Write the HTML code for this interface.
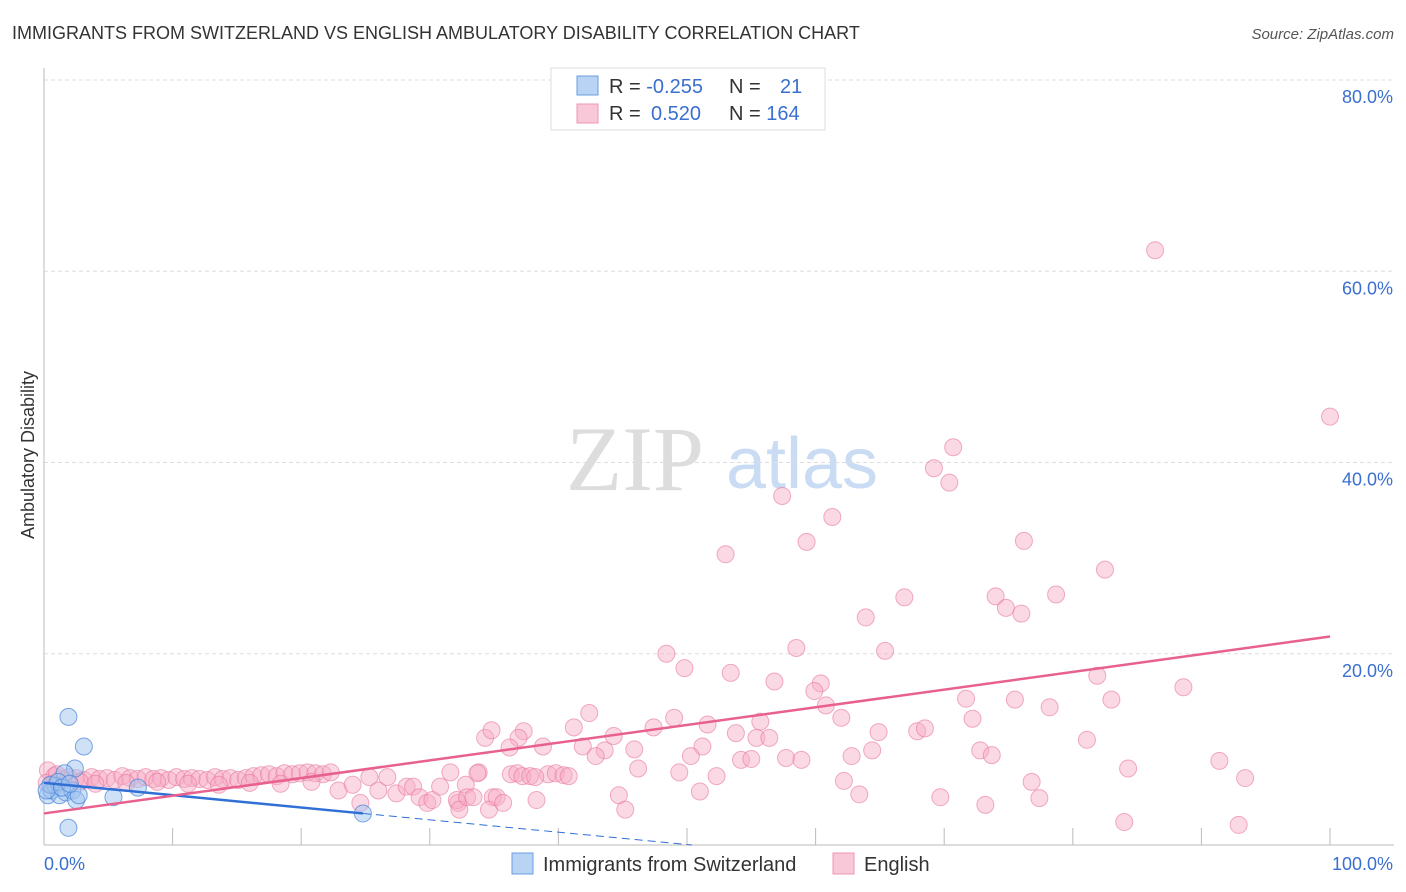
<!DOCTYPE html>
<html><head><meta charset="utf-8"><style>
body{margin:0;background:#fff;font-family:"Liberation Sans",sans-serif;}
svg{display:block}
</style></head><body>
<svg id="chart" width="1406" height="892" xmlns="http://www.w3.org/2000/svg">
<text x="12" y="39" font-size="18" fill="#333">IMMIGRANTS FROM SWITZERLAND VS ENGLISH AMBULATORY DISABILITY CORRELATION CHART</text>
<text x="1394" y="39" font-size="15" font-style="italic" fill="#555" text-anchor="end">Source: ZipAtlas.com</text>
<g>
<text x="635" y="490" font-size="92" font-family="Liberation Serif,serif" fill="#ddd" text-anchor="middle">ZIP</text>
<text x="802" y="488" font-size="72" fill="#c9dcf3" text-anchor="middle">atlas</text>
</g>
<g id="grid"></g>
<g id="axes"></g>
<g id="marks"></g>
<text transform="translate(34,455) rotate(-90)" font-size="18" fill="#333" text-anchor="middle">Ambulatory Disability</text>
<g>
<rect x="551" y="68" width="274" height="62" fill="#fff" stroke="#ddd"/>
<rect x="577" y="76" width="21" height="19" fill="#b9d3f5" stroke="#6a9de0"/>
<rect x="577" y="104" width="21" height="19" fill="#f9c8d8" stroke="#ee94b2"/>
<text x="609" y="93" font-size="20" fill="#333">R = <tspan fill="#3a6fd0">-0.255</tspan></text>
<text x="729" y="93" font-size="20" fill="#333">N = <tspan x="780" fill="#3a6fd0">21</tspan></text>
<text x="609" y="120" font-size="20" fill="#333">R = <tspan x="651" fill="#3a6fd0">0.520</tspan></text>
<text x="729" y="120" font-size="20" fill="#333">N = <tspan fill="#3a6fd0">164</tspan></text>
</g>
<g>
<rect x="512" y="853" width="21" height="21" fill="#b9d3f5" stroke="#6a9de0"/>
<text x="543" y="871" font-size="20" fill="#333">Immigrants from Switzerland</text>
<rect x="833" y="853" width="21" height="21" fill="#f9c8d8" stroke="#ee94b2"/>
<text x="864" y="871" font-size="20" fill="#333">English</text>
</g>
</svg>
<script>
const xTicks=[0,10,20,30,40,50,60,70,80,90,100];
const yTicks=[20,40,60,80];
const yTickLabels=["20.0%","40.0%","60.0%","80.0%"];
const xEndLabels=["0.0%","100.0%"];
const blueX=[1.9,3.1,2.4,1.9,1.6,5.4,7.3,24.8,0.3,0.6,0.9,1.2,1.7,2.2,2.5,2.7,0.5,1.1,0.2,1.4,2.0];
const blueY=[13.4,10.3,8.0,1.8,7.5,5.0,6.0,3.3,5.2,5.7,6.2,5.2,5.5,5.7,4.7,5.2,6.3,6.6,5.7,6.0,6.4];
const pinkX=[86.4,100,70.7,69.2,70.4,57.4,61.3,59.3,53.0,76.2,82.5,66.9,74.0,78.7,74.8,76.0,63.9,58.5,48.4,65.4,49.8,53.4,56.8,60.4,59.9,81.9,88.6,71.7,75.5,83.0,60.8,78.2,42.4,49.0,62.0,72.2,37.3,41.2,47.4,55.7,51.6,36.9,44.3,64.9,67.9,68.5,53.8,55.4,56.4,38.8,41.9,43.6,45.9,51.2,81.1,42.9,50.3,72.8,73.7,62.8,64.4,57.7,58.9,54.2,55.0,91.4,46.2,49.4,84.3,39.2,39.8,40.4,40.8,33.8,36.3,52.3,93.4,76.8,62.2,32.8,51.0,44.7,34.9,63.4,69.7,77.4,32.2,38.3,45.2,73.2,84.0,92.9,34.6,
24.6,25.3,26.0,26.7,27.4,28.2,28.7,29.2,29.8,30.2,30.8,31.6,32.1,32.3,32.9,33.4,33.7,34.3,34.8,35.2,35.7,36.2,36.8,37.2,37.8,38.2,22.9,24.0,
0.3,0.8,1.3,1.9,2.5,3.1,3.7,4.3,4.9,5.5,6.1,6.7,7.3,7.9,8.5,9.1,9.7,10.3,10.9,11.5,12.1,12.7,13.3,13.9,14.5,15.1,15.7,16.3,16.9,17.5,18.1,18.7,19.3,19.9,20.5,21.1,21.7,22.3,0.2,0.6,1.0,2.8,4.0,6.4,8.8,11.2,13.6,16.0,18.4,20.8];
const pinkY=[62.2,44.8,41.6,39.4,37.9,36.5,34.3,31.7,30.4,31.8,28.8,25.9,26.0,26.2,24.8,24.2,23.8,20.6,20.0,20.3,18.5,18.0,17.1,16.9,16.1,17.7,16.5,15.3,15.2,15.2,14.6,14.4,13.8,13.3,13.3,13.2,11.9,12.3,12.3,12.9,12.6,11.2,11.4,11.8,11.9,12.2,11.7,11.2,11.2,10.3,10.3,9.9,10.0,10.3,11.0,9.3,9.3,9.9,9.4,9.3,9.9,9.1,8.9,8.9,9.0,8.8,8.0,7.6,8.0,7.4,7.5,7.3,7.2,7.6,7.4,7.2,7.0,6.6,6.7,6.3,5.6,5.2,5.0,5.3,5.0,4.9,4.4,4.7,3.7,4.2,2.4,2.1,3.7,
4.4,7.1,5.7,7.1,5.4,6.1,6.1,5.0,4.4,4.7,6.1,7.6,4.7,3.7,5.0,5.0,7.5,11.2,12.0,5.0,4.4,10.2,7.5,7.2,7.2,7.1,5.7,6.3,
7.8,7.2,6.9,7.1,7.0,6.8,7.1,6.9,7.0,6.8,7.2,7.0,6.9,7.1,6.9,7.0,6.8,7.1,6.9,7.0,6.9,6.8,7.1,6.9,7.0,6.8,7.0,7.2,7.3,7.4,7.2,7.5,7.4,7.5,7.6,7.5,7.4,7.6,6.5,6.3,7.4,6.6,6.4,6.5,6.6,6.4,6.3,6.5,6.4,6.6];
const blueTrend=[6.5,-0.129];
const pinkTrend=[3.3,0.185];
const X0=44,X1=1330,Y0=845,Y80=80;
const sx=v=>X0+(X1-X0)*v/100;
const sy=v=>Y0-(Y0-Y80)*v/80;
const NS="http://www.w3.org/2000/svg";
function mk(tag,attrs,parent,txt){const e=document.createElementNS(NS,tag);for(const k in attrs)e.setAttribute(k,attrs[k]);if(txt!==undefined)e.textContent=txt;document.getElementById(parent).appendChild(e);return e;}
yTicks.forEach((t,i)=>{
 const g=mk('line',{x1:X0,x2:1394,y1:sy(t),y2:sy(t),stroke:'#ddd','stroke-dasharray':'4,3'},'grid');
 
 
 const l=mk('text',{x:1393,y:sy(t)+23,'font-size':18,fill:'#3a6fd0','text-anchor':'end'},'axes',yTickLabels[i]);
 
 
});
const ya=mk('line',{x1:X0,x2:X0,y1:68,y2:Y0,stroke:'#bbb'},'axes');


const xa=mk('line',{x1:X0,x2:1394,y1:Y0,y2:Y0,stroke:'#bbb'},'axes');


xTicks.forEach(t=>{
 const tk=mk('line',{x1:sx(t),x2:sx(t),y1:828,y2:Y0,stroke:'#bbb'},'axes');
 
 
});
const l0=mk('text',{x:44,y:870,'font-size':18,fill:'#3a6fd0'},'axes',xEndLabels[0]);


const l1=mk('text',{x:1393,y:870,'font-size':18,fill:'#3a6fd0','text-anchor':'end'},'axes',xEndLabels[1]);


pinkX.forEach((x,i)=>{
 const c=mk('circle',{cx:sx(x),cy:sy(pinkY[i]),r:8.5,fill:'rgba(246,170,195,0.45)',stroke:'rgba(232,120,158,0.6)','stroke-width':1},'marks');
 
 
});
blueX.forEach((x,i)=>{
 const c=mk('circle',{cx:sx(x),cy:sy(blueY[i]),r:8.5,fill:'rgba(160,196,240,0.5)',stroke:'rgba(70,130,215,0.7)','stroke-width':1},'marks');
 
 
});
const bmax=Math.max(...blueX);
const bzero=-blueTrend[0]/blueTrend[1];
const b1=mk('line',{x1:sx(0),y1:sy(blueTrend[0]),x2:sx(bmax),y2:sy(blueTrend[0]+blueTrend[1]*bmax),stroke:'#2f6fd6','stroke-width':2.5},'marks');


const b2=mk('line',{x1:sx(bmax),y1:sy(blueTrend[0]+blueTrend[1]*bmax),x2:sx(bzero),y2:sy(0),stroke:'#2f6fd6','stroke-width':1,'stroke-dasharray':'8,5'},'marks');


const p1=mk('line',{x1:sx(0),y1:sy(pinkTrend[0]),x2:sx(100),y2:sy(pinkTrend[0]+pinkTrend[1]*100),stroke:'#e8608e','stroke-width':2.5},'marks');


</script>
</body></html>
